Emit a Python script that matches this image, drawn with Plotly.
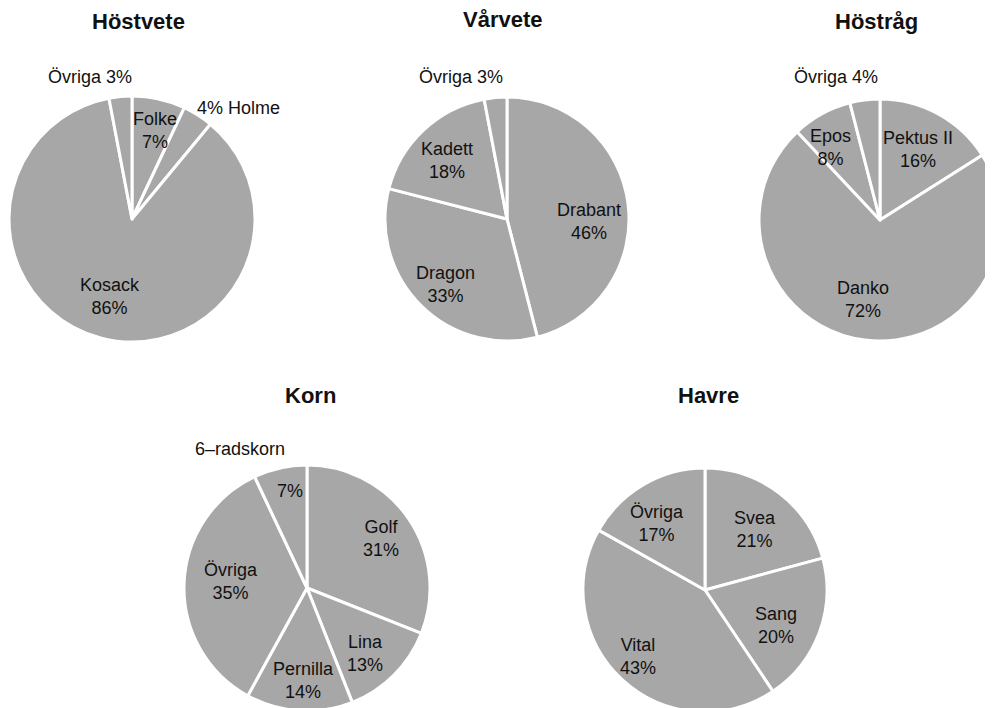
import plotly.graph_objects as go

W, H = 993, 708
OFF = 8  # page body margin in the browser

# ---- data ----
hostvete_names = ["Folke", "Holme", "Kosack", "Övriga"]
hostvete_values = [7, 4, 86, 3]
varvete_names = ["Drabant", "Dragon", "Kadett", "Övriga"]
varvete_values = [46, 33, 18, 3]
hostrag_names = ["Pektus II", "Danko", "Epos", "Övriga"]
hostrag_values = [16, 72, 8, 4]
korn_names = ["Golf", "Lina", "Pernilla", "Övriga", "6–radskorn"]
korn_values = [31, 13, 14, 35, 7]
havre_names = ["Svea", "Sang", "Vital", "Övriga"]
havre_values = [21, 20, 43, 17]
titles = ["Höstvete", "Vårvete", "Höstråg", "Korn", "Havre"]

# ---- layout / style (screen pixels) ----
# pie centre and radius on screen
pies = [(132, 219, 123), (507, 219, 122), (880, 220, 121),
        (307, 588, 123), (705, 590, 122)]
title_pos = [(138, 22), (503, 20), (876, 22), (310, 395), (708, 395)]
# label placements per slice: (template, dx, dy, xanchor) relative to pie centre
label_style = [
    [[("{n}<br>{v}%", 23, -89, "center")],
     [("{v}% {n}", 63, -111, "left")],
     [("{n}<br>{v}%", -22, 77, "center")],
     [("{n} {v}%", -42, -142, "center")]],
    [[("{n}<br>{v}%", 82, 3, "center")],
     [("{n}<br>{v}%", -62, 65, "center")],
     [("{n}<br>{v}%", -60, -58, "center")],
     [("{n} {v}%", -46, -142, "center")]],
    [[("{n}<br>{v}%", 38, -71, "center")],
     [("{n}<br>{v}%", -17, 79, "center")],
     [("{n}<br>{v}%", -50, -73, "center")],
     [("{n} {v}%", -44, -143, "center")]],
    [[("{n}<br>{v}%", 74, -50, "center")],
     [("{n}<br>{v}%", 58, 65, "center")],
     [("{n}<br>{v}%", -4, 92, "center")],
     [("{n}<br>{v}%", -76, -7, "center")],
     [("{n}", -67, -139, "center"), ("{v}%", -17, -97, "center")]],
    [[("{n}<br>{v}%", 50, -61, "center")],
     [("{n}<br>{v}%", 71, 35, "center")],
     [("{n}<br>{v}%", -67, 66, "center")],
     [("{n}<br>{v}%", -48, -67, "center")]],
]

FONT = "Liberation Sans, Arial, Helvetica, sans-serif"
GREY = "#a7a7a7"
TXT = "#111111"

datasets = [(hostvete_names, hostvete_values), (varvete_names, varvete_values),
            (hostrag_names, hostrag_values), (korn_names, korn_values),
            (havre_names, havre_values)]


def px(x):
    return (x - OFF) / W


def py(y):
    return 1 - (y - OFF) / H


fig = go.Figure()
annotations = []
for i, ((names, vals), (cx, cy, r)) in enumerate(zip(datasets, pies)):
    x0, x1 = max(0.0, px(cx - r)), min(1.0, px(cx + r))
    y0, y1 = max(0.0, py(cy + r)), min(1.0, py(cy - r))
    fig.add_trace(go.Pie(
        labels=names, values=vals, sort=False, direction="clockwise", rotation=0,
        domain=dict(x=[x0, x1], y=[y0, y1]),
        marker=dict(colors=[GREY] * len(vals), line=dict(color="white", width=3)),
        textinfo="none", hoverinfo="label+percent", showlegend=False,
    ))
    for n, v, styles in zip(names, vals, label_style[i]):
        for tmpl, dx, dy, xa in styles:
            annotations.append(dict(
                x=px(cx + dx), y=py(cy + dy), xref="paper", yref="paper",
                text=tmpl.format(n=n, v=v), showarrow=False, xanchor=xa, yanchor="middle",
                font=dict(family=FONT, size=18, color=TXT), align="center"))
    tx, ty = title_pos[i]
    annotations.append(dict(
        x=px(tx), y=py(ty), xref="paper", yref="paper",
        text="<b>" + titles[i] + "</b>", showarrow=False, xanchor="center", yanchor="middle",
        font=dict(family=FONT, size=22, color=TXT)))

fig.update_layout(
    width=W, height=H, margin=dict(l=0, r=0, t=0, b=0),
    paper_bgcolor="white", plot_bgcolor="white",
    annotations=annotations,
)
fig.write_html("out.html")
